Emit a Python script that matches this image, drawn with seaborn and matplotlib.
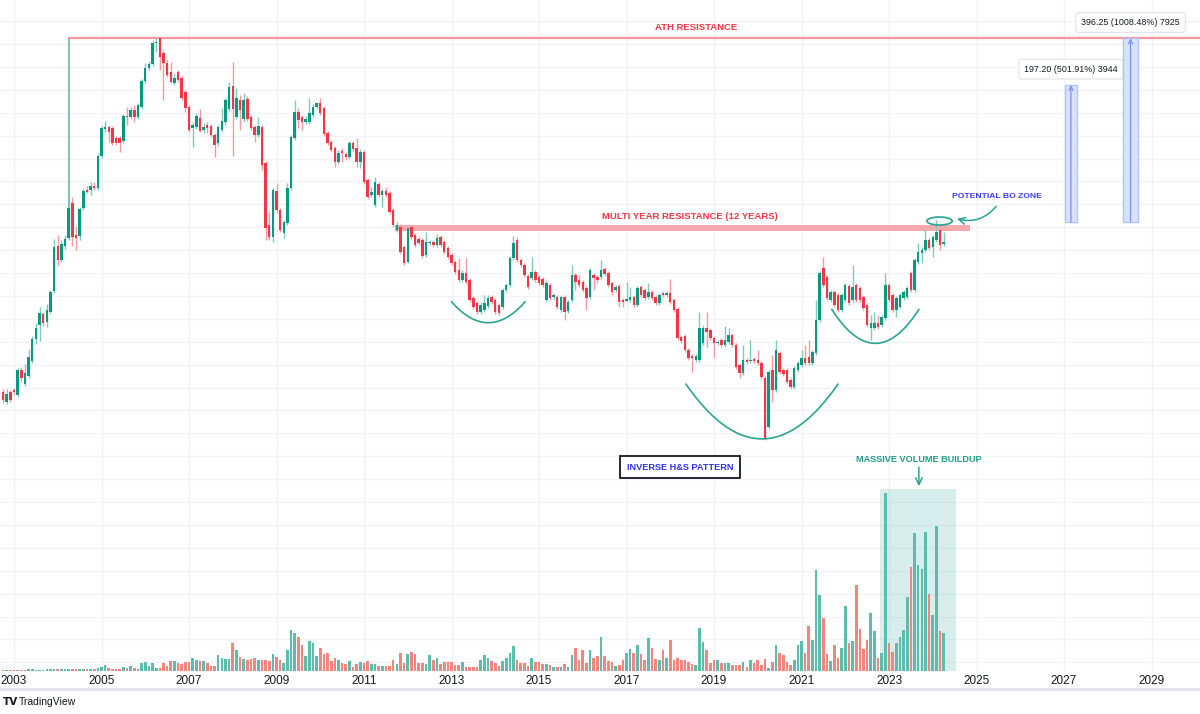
import numpy as np
import pandas as pd
import matplotlib
matplotlib.use("Agg")
import matplotlib.pyplot as plt
import seaborn as sns
from matplotlib.patches import Rectangle
from matplotlib.lines import Line2D
from matplotlib.ticker import NullLocator, FixedLocator

# ---------------- data (monthly candles, Oct 2002 .. Apr 2024) ----------------
start_month = "2002-10"

opens = [4.25,3.72,4.25,4.36,4.08,5.66,4.71,5.23,6.37,8.50,
         10.21,11.79,10.62,12.10,15.92,28.70,23.89,28.70,31.86,50.38,
         33.14,32.71,47.19,59.73,59.73,62.94,61.31,93.2,132.7,136.2,
         134.5,118.0,118.0,113.4,157.3,155.3,170.2,155.3,177.0,248.7,
         294.9,310.7,409.1,436.0,358.9,314.8,279.9,242.3,279.9,258.7,
         215.4,177.0,134.5,136.2,153.3,131.0,139.8,138.0,122.7,110.5,
         131.0,145.4,172.4,233.0,155.3,194.0,151.3,196.5,155.3,136.2,
         122.7,136.2,85.04,37.78,32.28,58.95,45.97,34.02,38.78,61.31,
         118.0,165.8,155.3,145.4,145.4,159.4,177.0,186.5,174.7,126.0,
         111.9,103.5,86.16,99.5,95.7,92.0,110.5,103.5,86.16,98.2,
         68.08,55.95,49.08,64.61,55.95,58.95,57.43,45.97,35.38,36.80,
         28.32,23.27,36.80,33.14,31.45,31.04,25.51,29.84,30.24,29.07,
         32.28,30.24,27.95,25.51,23.27,20.96,18.39,20.15,18.39,14.53,
         13.61,12.10,12.42,13.09,14.72,14.16,13.26,12.92,16.13,17.23,
         24.53,31.04,23.89,22.38,19.38,18.88,20.42,19.12,18.63,14.16,
         17.23,14.72,14.72,12.42,14.72,12.26,14.16,19.63,18.39,17.91,
         16.56,14.72,19.63,19.12,19.12,21.24,20.15,17.68,16.13,17.00,
         14.16,13.97,14.16,14.72,13.26,16.78,16.13,14.72,15.71,14.72,
         13.61,15.51,15.11,15.51,14.16,12.59,8.72,8.84,7.36,6.80,
         6.45,6.45,8.07,9.82,9.56,8.61,8.07,8.39,7.86,8.17,
         8.95,7.86,6.04,5.44,6.45,6.37,6.54,6.45,6.20,5.10,
         2.68,5.66,4.36,7.08,5.66,5.66,4.97,4.53,5.66,6.04,
         6.63,6.72,6.20,7.08,10.90,21.52,19.12,14.16,15.71,15.11,
         12.42,14.16,17.00,14.16,17.23,16.56,14.72,13.26,9.82,9.82,
         10.48,10.21,11.19,17.23,15.11,12.42,12.92,14.53,14.72,20.15,
         16.13,23.27,26.19,27.24,31.04,28.32,31.04,35.38,29.46]

highs = [4.42,4.42,4.36,4.47,5.81,5.89,6.12,7.46,8.84,10.48,
         12.92,12.10,13.44,16.13,31.45,33.14,31.04,33.14,49.08,54.50,
         37.28,47.81,61.31,62.94,66.32,66.32,96.9,138.0,147.4,139.8,
         138.0,121.1,121.1,161.5,177.0,177.0,181.7,186.5,255.4,314.8,
         323.2,425.5,438.0,438.0,373.3,327.4,318.9,276.2,287.3,265.6,
         221.1,181.7,145.4,163.6,172.4,143.6,145.4,141.7,126.0,139.8,
         174.7,199.1,245.5,318.9,226.9,207.1,212.6,204.4,159.4,139.8,
         155.3,139.8,87.30,44.78,61.31,65.46,47.19,40.33,65.46,122.7,
         194.0,174.7,159.4,157.3,199.1,184.1,189.0,199.1,179.3,129.3,
         114.9,106.2,100.8,103.5,98.2,113.4,113.4,118.0,102.1,100.8,
         69.88,62.12,70.81,66.32,60.51,62.12,58.95,47.19,39.29,38.27,
         29.07,36.80,37.78,34.02,32.28,31.86,34.47,31.04,31.04,33.58,
         33.14,31.04,28.70,26.19,23.89,24.53,20.96,24.53,18.88,14.91,
         13.97,13.79,15.11,15.11,15.11,14.53,13.61,16.56,17.68,25.18,
         32.71,32.28,24.53,22.97,19.89,24.86,20.96,19.63,19.12,18.39,
         17.68,15.51,15.11,15.11,15.11,14.16,22.38,20.15,19.63,18.39,
         17.00,21.52,20.15,19.63,23.89,21.80,20.69,18.15,17.23,17.45,
         14.53,17.91,16.78,15.11,17.00,17.23,16.56,17.68,16.13,15.11,
         15.51,15.92,15.92,18.63,14.53,12.92,8.95,9.07,7.56,6.98,
         6.98,12.10,10.21,12.10,9.82,8.84,8.39,8.61,10.08,9.82,
         9.19,8.07,6.20,7.86,6.63,8.39,6.72,7.36,6.37,5.23,
         5.66,6.89,8.39,7.26,5.81,5.81,5.10,5.96,6.37,7.36,
         7.86,8.39,7.36,14.16,20.69,24.86,19.63,16.13,16.13,15.51,
         15.51,17.68,17.45,22.38,17.68,17.00,15.11,13.61,11.63,12.10,
         11.63,11.63,20.15,17.68,15.51,14.91,15.51,16.13,17.00,20.69,
         24.53,29.84,28.32,35.85,31.86,33.14,40.33,36.32,34.47]

lows = [3.67,3.62,3.72,4.08,3.98,4.84,4.59,5.10,6.20,7.96,
        8.28,10.08,9.95,11.79,15.51,22.09,23.27,27.59,31.04,28.70,
        27.24,31.04,45.97,57.43,55.95,59.73,59.73,90.8,127.6,111.9,
        107.6,107.6,98.2,110.5,139.8,151.3,145.4,151.3,172.4,242.3,
        287.3,302.7,363.7,287.3,194.0,262.1,242.3,236.0,245.5,194.0,
        165.8,127.6,104.8,132.7,127.6,126.0,126.0,119.5,92.0,106.2,
        127.6,139.8,168.0,93.2,151.3,131.0,145.4,147.4,131.0,111.9,
        119.5,77.60,31.04,31.04,30.24,44.20,34.47,31.86,37.78,59.73,
        114.9,134.5,131.0,141.7,141.7,155.3,172.4,159.4,121.1,107.6,
        98.2,80.70,83.94,86.16,88.45,89.6,99.5,80.70,79.66,64.61,
        53.09,54.50,47.81,54.50,47.81,54.50,43.63,36.80,34.47,25.85,
        22.38,22.97,31.45,28.32,29.07,24.53,24.86,29.07,28.32,28.32,
        28.32,25.85,24.21,22.38,19.89,17.91,17.91,17.45,13.79,12.59,
        11.79,11.79,12.10,12.75,13.44,11.79,11.63,12.59,15.71,16.78,
        23.89,23.27,21.80,19.12,16.35,18.39,17.91,17.23,16.78,13.79,
        14.16,14.16,12.59,12.10,10.90,11.94,13.79,16.13,16.78,15.71,
        12.42,14.34,16.13,17.68,18.63,19.38,16.78,15.11,15.71,12.92,
        12.92,13.79,13.79,12.92,12.92,14.72,14.16,14.34,14.16,13.26,
        13.26,14.72,14.72,13.44,12.10,8.39,8.07,7.17,6.45,5.51,
        6.28,6.28,7.86,7.66,8.39,6.63,7.86,7.66,7.66,7.96,
        7.66,5.73,5.10,5.30,6.12,6.20,6.20,6.04,5.03,2.27,
        2.61,3.72,4.25,5.37,5.23,4.71,4.42,4.42,5.51,5.89,
        6.04,6.04,6.04,6.89,10.62,16.78,14.16,13.79,12.92,12.10,
        12.10,13.79,13.26,13.79,13.79,13.79,12.42,9.95,8.39,9.56,
        9.69,9.95,10.90,13.79,12.10,11.33,12.59,14.16,14.34,15.71,
        15.71,22.67,22.97,26.54,27.24,24.86,30.24,27.24,28.70]

closes = [3.82,4.14,3.82,4.25,5.66,5.10,5.44,6.72,8.50,9.82,
          11.94,10.48,12.42,15.71,28.32,23.89,29.46,31.45,47.19,32.28,
          31.86,46.58,58.95,58.19,62.94,61.31,93.2,134.5,136.2,127.6,
          110.5,110.5,110.5,157.3,155.3,170.2,155.3,181.7,248.7,294.9,
          310.7,409.1,414.5,340.6,314.8,269.1,245.5,258.7,252.0,199.1,
          174.7,131.0,139.8,157.3,129.3,136.2,134.5,122.7,107.6,136.2,
          147.4,194.0,229.9,172.4,199.1,170.2,194.0,151.3,134.5,122.7,
          138.0,82.85,36.32,32.28,59.73,45.97,35.38,39.29,61.31,119.5,
          165.8,149.3,145.4,151.3,163.6,177.0,186.5,163.6,124.3,110.5,
          100.8,86.16,96.9,96.9,92.0,110.5,102.1,86.16,98.2,66.32,
          54.50,58.19,66.32,55.95,58.95,55.95,44.78,37.78,37.78,26.54,
          22.97,36.32,32.28,29.07,29.84,25.18,30.24,30.24,29.07,31.86,
          29.07,26.54,24.86,22.97,20.42,18.39,20.15,17.91,14.16,12.92,
          12.10,13.26,13.61,14.53,13.79,12.10,11.94,16.13,17.23,24.53,
          29.84,23.89,22.38,19.63,16.78,20.42,18.39,17.68,17.23,17.68,
          14.53,15.11,12.92,14.72,12.10,13.79,19.63,17.91,17.23,16.13,
          14.53,20.96,18.88,18.39,20.96,19.89,17.23,15.71,16.78,13.79,
          13.79,14.34,14.72,13.26,16.56,15.11,14.53,15.71,14.53,13.61,
          15.11,15.11,15.51,13.79,12.42,8.61,8.28,7.36,6.63,6.63,
          6.80,9.82,9.82,9.31,8.61,8.07,8.17,7.86,8.39,8.95,
          7.86,5.89,5.44,6.45,6.28,6.45,6.37,6.20,5.16,2.32,
          5.51,4.36,7.36,5.51,5.37,4.84,4.53,5.81,6.20,6.63,
          6.20,6.20,7.17,10.90,20.15,17.23,14.53,15.71,13.26,12.42,
          15.11,17.23,13.61,16.78,14.16,14.16,12.75,10.21,10.48,10.48,
          9.95,11.33,17.23,14.16,12.42,14.53,15.11,15.71,16.56,16.13,
          23.89,26.54,27.24,31.04,27.95,32.28,34.47,29.07,30.24]

volumes = [1,1,1,1,1,1,1,1.5,1.5,1,
           1,1,1.5,1.5,2,1.5,1.5,1.5,2,2,
           1.5,2,2,1.5,2,2,3,4,6,3,
           2,2,2,4,3,5,3,2,8,9,
           5,8,3,3,8,5,10,10,8,7,
           9,9,13,11,10,10,8,5,5,16,
           13,12,12,28,21,14,12,11,12,13,
           11,11,11,10,17,14,11,8,21,41,
           38,34,26,15,30,28,15,23,17,18,
           10,13,11,8,7,10,4,7,9,8,
           10,7,7,5,5,5,5,11,7,18,
           8,17,19,17,8,8,7,16,11,13,
           7,9,9,9,6,6,9,4,4,4,
           4,11,16,13,10,8,5,10,13,18,
           25,11,8,8,5,13,9,9,7,7,
           6,4,4,4,7,4,16,23,11,21,
           8,21,13,15,34,15,10,9,5,6,
           11,18,22,18,26,17,11,33,23,12,
           11,21,13,31,11,13,11,11,9,7,
           6,43,29,21,8,11,11,8,8,8,
           6,6,6,9,4,11,8,11,6,12,
           3,9,26,18,16,9,6,11,26,30,
           18,45,31,101,76,53,17,10,26,13,
           23,65,28,30,86,42,22,31,58,40,
           13,18,178,28,19,28,34,41,74,104,
           138,106,102,139,77,56,145,40,38]

year_ticks = list(range(2003, 2030, 2))

# annotation values
base_price = 39.29                      # measurement base (multi-year resistance)
target_gain = [197.20, 396.25]
target_pct = [501.91, 1008.48]
target_bars = [3944, 7925]
target_span = [(288.3, 291.5), (304.2, 308.3)]   # months since Jan 2003
ath_price = base_price + target_gain[1]
resist_band = (34.92, 37.78)
resist_span = (104.5, 262.2)
cups = [(120.0, 140.2, 13.85, 10.52),
        (184.3, 226.0, 4.71, 2.30),
        (224.3, 248.2, 12.53, 8.03)]
bo_zone = (250.4, 257.3, 37.78, 41.95)
vol_zone = (237.5, 258.3)

# ---------------- style ----------------
sns.set_theme(style="white")
plt.rcParams["font.family"] = ["Liberation Sans", "DejaVu Sans"]

UP, DOWN = "#089981", "#f23645"
UP_W, DOWN_W = "#7fcabd", "#f799a1"
VUP, VDOWN = "#5cbcae", "#f3857f"
TEAL = "#2aa590"

per = pd.period_range(start_month, periods=len(closes), freq="M")
month = np.array((per.year - 2003) * 12 + per.month - 1, dtype=float)
o = np.array(opens); h = np.array(highs); l = np.array(lows); c = np.array(closes)
up = c >= o

fig = plt.figure(figsize=(12, 7.14), dpi=100)
fig.patch.set_facecolor("white")
ax = fig.add_axes([0, 43 / 714, 1, 671 / 714])
ax.set_yscale("log")
ax.set_facecolor("white")

# grid (TradingView style, evenly spaced on log scale)
grid_top, grid_ratio = 403.8, 1.3495
ax.yaxis.set_major_locator(FixedLocator(grid_top / grid_ratio ** np.arange(-2, 30)))
ax.yaxis.set_minor_locator(NullLocator())
ax.set_xticks([(y - 2003) * 12 for y in year_ticks])
ax.set_xticklabels([str(y) for y in year_ticks])
ax.grid(True, color="#f1f3f8", lw=1)
ax.tick_params(axis="y", left=False, labelleft=False, right=False)
ax.tick_params(axis="x", length=0, pad=3, labelsize=8.5, colors="#131722")
for s in ax.spines.values():
    s.set_visible(False)

# candles
ax.vlines(month, l, h, colors=np.where(up, UP_W, DOWN_W), lw=1, zorder=3)
ax.bar(month, np.abs(c - o), bottom=np.minimum(o, c), width=0.68,
       color=np.where(up, UP, DOWN), linewidth=0, zorder=4)

LBL = dict(fontweight="bold", ha="center", va="center")

# ATH resistance
ath_m = month[18]
ax.plot([ath_m, ath_m], [c[18], ath_price], color="#6cc0b0", lw=1.3, zorder=2)
ax.plot([ath_m, 400], [ath_price, ath_price], color="#f5949b", lw=1.6, zorder=2)
ax.annotate("ATH RESISTANCE", xy=(187.1, ath_price), xytext=(0, 7.5),
            textcoords="offset points", color="#f23645", fontsize=6.8, **LBL)

# multi-year resistance band
ax.fill_between(resist_span, resist_band[0], resist_band[1], color="#f8a9ae",
                lw=0, zorder=2)
ax.annotate("MULTI YEAR RESISTANCE (12 YEARS)", xy=(185.4, resist_band[1]),
            xytext=(0, 5.8), textcoords="offset points",
            color="#f23645", fontsize=6.8, **LBL)

# cups of the inverse head & shoulders
for x0, x1, p_rim, p_bot in cups:
    t = np.linspace(-1, 1, 80)
    xs = (x0 + x1) / 2 + t * (x1 - x0) / 2
    ys = np.exp(np.log(p_bot) + (np.log(p_rim) - np.log(p_bot)) * t ** 2)
    ax.plot(xs, ys, color=TEAL, lw=1.2, zorder=5)

# potential breakout zone ellipse
tt = np.linspace(0, 2 * np.pi, 100)
ex = (bo_zone[0] + bo_zone[1]) / 2 + (bo_zone[1] - bo_zone[0]) / 2 * np.cos(tt)
lc = (np.log(bo_zone[2]) + np.log(bo_zone[3])) / 2
lr = (np.log(bo_zone[3]) - np.log(bo_zone[2])) / 2
ey = np.exp(lc + lr * np.sin(tt))
ax.fill(ex, ey, color=TEAL, alpha=0.08, zorder=5)
ax.plot(ex, ey, color=TEAL, lw=1.2, zorder=6)
ax.annotate("", xy=(bo_zone[1] + 0.6, np.exp(lc) * 1.04), xytext=(269.9, 49.7),
            arrowprops=dict(arrowstyle="->", color=TEAL, lw=1.1,
                            connectionstyle="arc3,rad=-0.35"), zorder=6)
ax.annotate("POTENTIAL BO ZONE", xy=(269.6, 49.7), xytext=(0, 5.8),
            textcoords="offset points", color="#3d3df5", fontsize=6.1, **LBL)

# projected targets
for (xa, xb), gain, pct, bars in zip(target_span, target_gain, target_pct, target_bars):
    top = base_price + gain
    ax.add_patch(Rectangle((xa, base_price), xb - xa, top - base_price,
                           facecolor="#d9e2fd", edgecolor="#b3c4fa", lw=1, zorder=3))
    xm = (xa + xb) / 2
    ax.annotate("", xy=(xm, top), xytext=(xm, base_price),
                arrowprops=dict(arrowstyle="->", color="#7d98f5", lw=1,
                                shrinkA=0, shrinkB=0, mutation_scale=7), zorder=4)
    ax.annotate(f"{gain:.2f} ({pct:.2f}%) {bars}", xy=(xm, top), xytext=(0, 11.3),
                textcoords="offset points", ha="center", va="center",
                color="#131722", fontsize=6.4,
                bbox=dict(boxstyle="round,pad=0.6,rounding_size=0.3",
                          facecolor="white", edgecolor="#e0e3eb", lw=0.8))

# pattern label
xtr = ax.get_xaxis_transform()
ax.text(182.7, 1 - 467 / 671, "INVERSE H&S PATTERN", transform=xtr,
        color="#3030f0", fontsize=6.6, zorder=7,
        bbox=dict(boxstyle="square,pad=0.75", facecolor="white",
                  edgecolor="#131722", lw=1.3), **LBL)

ax.set_xlim(-3.84, 325.3)
ax.set_ylim(0.1102, 718.3)

# ---------------- volume ----------------
axv = ax.twinx()
df = pd.DataFrame({"month": month, "volume": volumes,
                   "dir": np.where(up, "up", "down")})
axv.add_patch(Rectangle((vol_zone[0], 0), vol_zone[1] - vol_zone[0],
                        max(volumes) * 1.02, facecolor="#26a69a", alpha=0.18,
                        lw=0, zorder=1))
sns.barplot(data=df, x="month", y="volume", hue="dir",
            palette={"up": VUP, "down": VDOWN}, native_scale=True, dodge=False,
            width=0.72, saturation=1, errorbar=None, legend=False, ax=axv,
            linewidth=0, zorder=2)
axv.set_ylim(0, max(volumes) / 0.2653)
axv.set_xlabel(""); axv.set_ylabel("")
axv.tick_params(axis="y", right=False, labelright=False, left=False, labelleft=False)
for s in axv.spines.values():
    s.set_visible(False)
axv.text(248.3, 1 - 460 / 671, "MASSIVE VOLUME BUILDUP", transform=xtr,
         color="#1e9e86", fontsize=6.6, **LBL)
axv.annotate("", xy=(248.2, 1 - 486 / 671), xytext=(248.2, 1 - 467 / 671),
             xycoords=xtr, textcoords=xtr,
             arrowprops=dict(arrowstyle="->", color="#1e9e86", lw=1,
                             shrinkA=0, shrinkB=0))
ax.set_xlim(-3.84, 325.3)

# footer
fig.add_artist(Line2D([0, 1], [25 / 714, 25 / 714], color="#e0e3eb", lw=2))
fig.text(3 / 1200, 12 / 714, "TV", fontsize=7.5, fontweight="bold",
         color="#131722", va="center", family=["DejaVu Sans"])
fig.text(19 / 1200, 12 / 714, "TradingView", fontsize=7.5, color="#131722",
         va="center", family=["Liberation Sans", "DejaVu Sans"])

fig.savefig("out.png", dpi=100)
